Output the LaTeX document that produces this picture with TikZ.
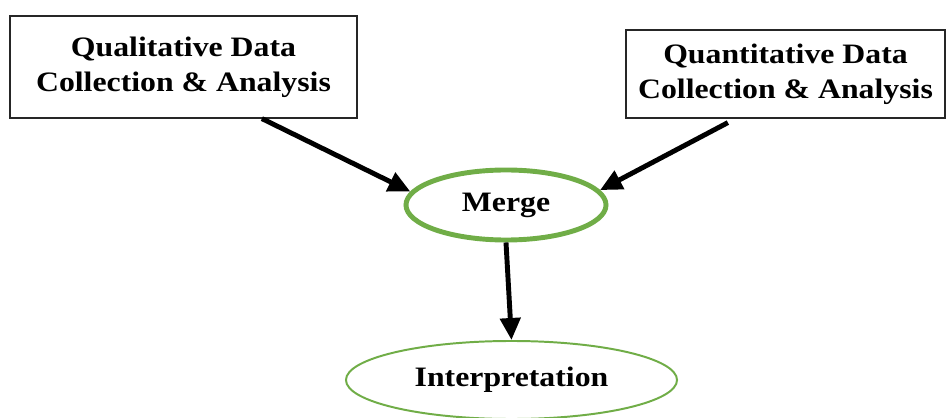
\documentclass[tikz,border=0pt]{standalone}
\usepackage{fontspec}
\setmainfont[FakeStretch=1.13]{Liberation Serif}
\usepackage{xcolor}
\usetikzlibrary{shapes.geometric, arrows.meta, positioning}
\definecolor{leafgreen}{HTML}{70AD47}

\begin{document}
\begin{tikzpicture}[x=0.025cm, y=-0.025cm,
    font=\bfseries\fontsize{20}{25}\selectfont,
    databox/.style={draw=black!85, line width=0.85pt, align=center},
    stage/.style={ellipse, draw=leafgreen},
    flow/.style={line width=3.5pt, -{Triangle[length=0.55cm, width=0.5cm]}}]
    \useasboundingbox (0,0) rectangle (952,418);
    % the two strands
    \node[databox, minimum width=8.675cm, minimum height=2.55cm] (qual) at (183.5,67)
        {Qualitative Data\\Collection \& Analysis};
    \node[databox, minimum width=7.975cm, minimum height=2.2cm] (quan) at (785.5,74)
        {Quantitative Data\\Collection \& Analysis};
    % merging and interpretation
    \node[stage, line width=3.5pt, minimum width=5cm, minimum height=1.75cm] (merge) at (506,205) {Merge};
    \node[stage, line width=1.4pt, minimum width=8.275cm, minimum height=1.95cm] (interp) at (511.5,380) {Interpretation};
    \draw[flow] ([xshift=1.96cm]qual.south) -- (merge.172);
    \draw[flow] ([xshift=-1.44cm,yshift=-0.1cm]quan.south) -- (merge.9);
    \draw[flow] (merge.south) -- (interp.north);
\end{tikzpicture}
\end{document}
